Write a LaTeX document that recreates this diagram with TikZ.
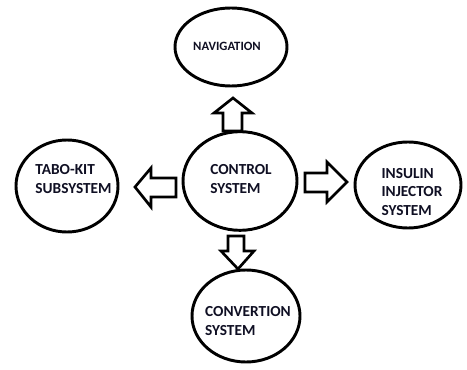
\documentclass[tikz,border=0pt]{standalone}
\usepackage{fontspec}
\setmainfont{Carlito}
\usetikzlibrary{shapes.geometric}
\definecolor{txt}{RGB}{15,15,35}
\tikzset{
  oval/.style={draw=black, line width=2.2pt, ellipse, inner sep=0pt},
  lbl/.style={font=\bfseries\fontsize{11.5}{14}\selectfont, text=txt, align=left, inner sep=0pt},
  blockarrow/.style={draw=black, line width=2pt, fill=white, line join=miter}
}
\begin{document}
\begin{tikzpicture}[x=0.75pt,y=-0.75pt]
\useasboundingbox (0,0) rectangle (467,370);
% ellipses
\node[oval, minimum width=84pt, minimum height=58.5pt] (nav) at (231,47) {};
\node[oval, minimum width=85.5pt, minimum height=74pt] (ctrl) at (240,181) {};
\node[oval, minimum width=76.5pt, minimum height=69pt] (tabo) at (67,186) {};
\node[oval, minimum width=79.5pt, minimum height=64.5pt] (ins) at (408,185) {};
\node[oval, minimum width=81pt, minimum height=69pt] (conv) at (246,316) {};
% labels
\node[lbl, font=\bfseries\fontsize{9.5}{12}\selectfont] (navt) at (227,46) {NAVIGATION};
\node[lbl] (ctrlt) at (241,179) {CONTROL\\SYSTEM};
\node[lbl] (tabot) at (73.5,179) {TABO-KIT\\SUBSYSTEM};
\node[lbl] (inst) at (412,192) {INSULIN\\INJECTOR\\SYSTEM};
\node[lbl] (convt) at (248,321) {CONVERTION\\SYSTEM};
% block arrows
\draw[blockarrow] (233,98) -- (252,113) -- (242,113) -- (242,131) -- (223,131) -- (223,113) -- (214,113) -- cycle;
\draw[blockarrow] (238,269) -- (221,251) -- (228,251) -- (228,236) -- (244,236) -- (244,251) -- (254,251) -- cycle;
\draw[blockarrow] (135,187) -- (151,168) -- (151,178) -- (176,178) -- (176,197) -- (151,197) -- (151,207) -- cycle;
\draw[blockarrow] (347,182) -- (327,202) -- (327,192) -- (305,192) -- (305,173) -- (327,173) -- (327,162) -- cycle;
\end{tikzpicture}
\end{document}
